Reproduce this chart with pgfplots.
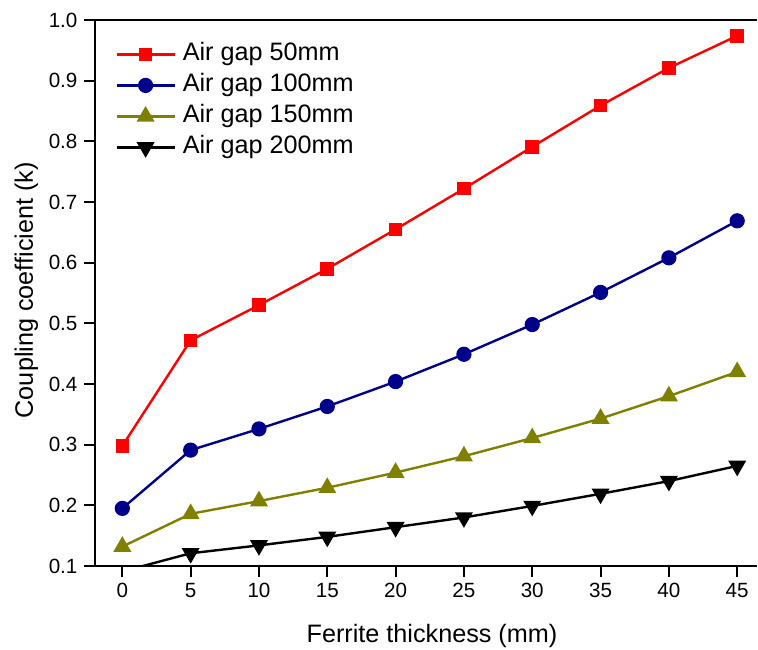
\documentclass[border=0pt]{standalone}
\usepackage{pgfplots}
\pgfplotsset{compat=1.18}
\usepackage{fontspec}
\setmainfont{Liberation Sans}
\definecolor{navyc}{RGB}{0,0,139}
\definecolor{olivec}{RGB}{128,128,0}
\begin{document}
\begin{tikzpicture}
\useasboundingbox (-47.5pt,-41.5pt) rectangle (331.5pt,283pt);
\begin{axis}[
  at={(0,0)}, anchor=south west,
  scale only axis, width=331pt, height=273pt,
  xmin=-2, xmax=46.45, ymin=0.1, ymax=1.0,
  axis x line=box, axis y line=left,
  axis line style={-, line width=1pt, black},
  xtick pos=left, ytick pos=left,
  xtick={0,5,10,15,20,25,30,35,40,45},
  ytick={0.1,0.2,0.3,0.4,0.5,0.6,0.7,0.8,0.9,1.0},
  tick align=outside, major tick length=5.25pt,
  every tick/.style={line width=1pt, black},
  /pgf/number format/assume math mode=true,
  yticklabel style={/pgf/number format/.cd, fixed, fixed zerofill, precision=1},
  tick label style={font=\fontsize{10.3}{12}\selectfont},
  xlabel={Ferrite thickness (mm)},
  ylabel={Coupling coefficient (k)},
  label style={font=\fontsize{12.6}{15}\selectfont},
  xlabel style={at={(rel axis cs:0.509,0)}, anchor=base, yshift=-38pt},
  ylabel style={at={(rel axis cs:0,0.505)}, anchor=base, yshift=31pt},
  legend style={draw=none, fill=none, at={(rel axis cs:0,1)}, anchor=north west,
    xshift=7pt, yshift=-9pt, font=\fontsize{12.6}{15}\selectfont,
    nodes={inner sep=0pt, text height=9pt, text depth=3pt},
    row sep=3.5pt, column sep=3.5pt},
  legend cell align=left,
  legend image code/.code={\draw[mark repeat=2,mark phase=2,#1] plot coordinates {(0pt,0pt) (14.5pt,0pt) (29pt,0pt)};},
  every axis plot/.append style={line width=1.2pt},
]
\addplot[color=red, mark=square*, mark size=2.8pt, mark options={solid}] coordinates {
(0,0.298) (5,0.472) (10,0.530) (15,0.590) (20,0.655) (25,0.722) (30,0.791) (35,0.859) (40,0.921) (45,0.974)};
\addlegendentry{Air gap 50mm}
\addplot[color=navyc, mark=*, mark size=3.2pt] coordinates {
(0,0.195) (5,0.291) (10,0.326) (15,0.363) (20,0.404) (25,0.449) (30,0.498) (35,0.551) (40,0.608) (45,0.669)};
\addlegendentry{Air gap 100mm}
\addplot[color=olivec, mark=triangle*, mark size=4pt] coordinates {
(0,0.132) (5,0.186) (10,0.207) (15,0.229) (20,0.254) (25,0.281) (30,0.311) (35,0.343) (40,0.380) (45,0.420)};
\addlegendentry{Air gap 150mm}
\addplot[color=black, mark=triangle*, mark size=4pt, mark options={rotate=180}] coordinates {
(0,0.091) (5,0.121) (10,0.134) (15,0.148) (20,0.164) (25,0.180) (30,0.199) (35,0.219) (40,0.240) (45,0.265)};
\addlegendentry{Air gap 200mm}
\end{axis}
\end{tikzpicture}
\end{document}
